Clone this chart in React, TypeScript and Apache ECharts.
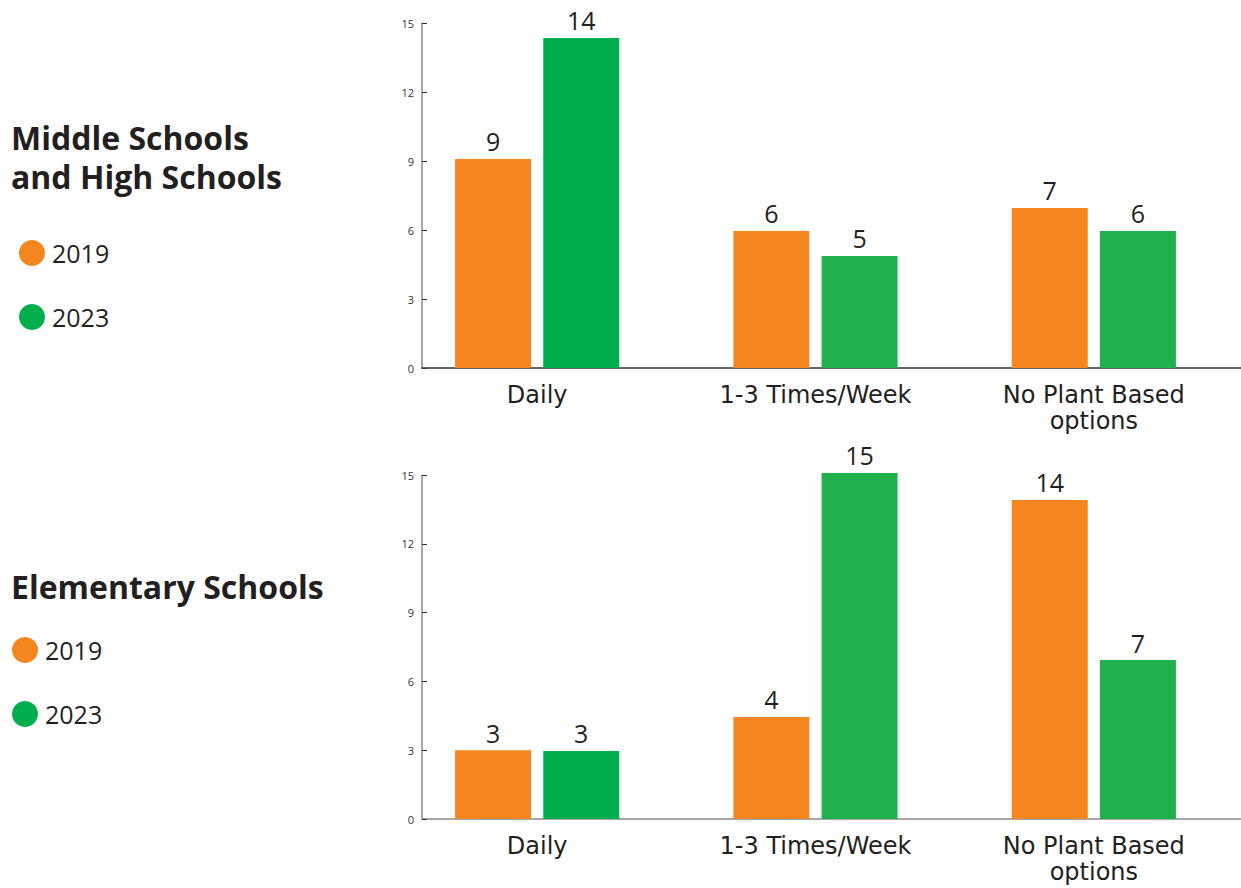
import React, { useEffect, useRef } from "react";
import * as echarts from "echarts";

const categories = ["Daily", "1-3 Times/Week", "No Plant Based\noptions"];
const yTicks = { min: 0, max: 15, interval: 3 };

// Middle & High Schools
const msHs2019 = [9.09, 5.96, 6.96];
const msHs2019Labels = ["9", "6", "7"];
const msHs2023 = [14.35, 4.87, 5.96];
const msHs2023Labels = ["14", "5", "6"];

// Elementary Schools
const elem2019 = [3.0, 4.45, 13.91];
const elem2019Labels = ["3", "4", "14"];
const elem2023 = [2.97, 15.09, 6.93];
const elem2023Labels = ["3", "15", "7"];

const seriesNames = ["2019", "2023"];
const titles = ["Middle Schools\nand High Schools", "Elementary Schools"];

const ORANGE = "#F5861F";
const GREEN = "#00AE4D";
const GREEN2 = "#21B14C";
const green2023Colors = [GREEN, GREEN2, GREEN2];
const TEXT = "#231F20";
const FONT = "'Open Sans', 'Noto Sans', sans-serif";
const WIDE_FONT = "'DejaVu Sans', 'Open Sans', sans-serif";

export default function App() {
  const ref = useRef<HTMLDivElement>(null);
  useEffect(() => {
    if (!ref.current) return;
    const chart = echarts.init(ref.current, null, { renderer: "svg" });

    const grids = [
      { left: 398, width: 835, top: 23, height: 345 },
      { left: 398, width: 835, top: 475, height: 344 },
      { left: 422, right: 0, top: 23, height: 345 },
      { left: 422, right: 0, top: 475, height: 344 },
    ];

    const catAxis = (gi: number) => ({
      type: "category",
      gridIndex: gi,
      data: categories,
      axisLine: { show: false },
      axisTick: { show: false },
      axisLabel: {
        fontSize: 24,
        color: TEXT,
        fontFamily: WIDE_FONT,
        margin: 14,
        lineHeight: 26,
        interval: 0,
      },
    });
    const valAxis = (gi: number) => ({
      type: "value",
      gridIndex: gi,
      min: yTicks.min,
      max: yTicks.max,
      interval: yTicks.interval,
      offset: -24,
      axisLine: { show: true, lineStyle: { color: "#8A8A8A", width: 1.5 } },
      axisTick: { show: true, inside: true, length: 5, lineStyle: { color: "#333" } },
      axisLabel: { fontSize: 11, color: "#333", fontFamily: FONT, margin: 8 },
      splitLine: { show: false },
    });
    const lineXAxis = (gi: number, color: string) => ({
      type: "value",
      gridIndex: gi,
      min: 0,
      max: 1,
      axisLine: { show: true, onZero: false, lineStyle: { color, width: 1.5 } },
      axisTick: { show: false },
      axisLabel: { show: false },
      splitLine: { show: false },
    });
    const hiddenY = (gi: number) => ({
      type: "value",
      gridIndex: gi,
      min: 0,
      max: 15,
      show: false,
    });

    const mkSeries = (
      name: string,
      values: number[],
      labels: string[],
      gi: number,
      colors: string[]
    ) => ({
      type: "bar",
      name,
      xAxisIndex: gi,
      yAxisIndex: gi,
      barWidth: 76,
      barGap: "16%",
      clip: false,
      data: values.map((v, i) => ({ value: v, itemStyle: { color: colors[i] } })),
      itemStyle: { color: colors[0] },
      label: {
        show: true,
        position: "top",
        distance: 5,
        fontSize: 25,
        color: TEXT,
        fontFamily: FONT,
        formatter: (p: any) => labels[p.dataIndex],
      },
    });

    const orangeColors = categories.map(() => ORANGE);

    const legendBase = {
      orient: "vertical",
      icon: "circle",
      itemWidth: 26,
      itemHeight: 26,
      itemGap: 38,
      selectedMode: false,
      data: seriesNames,
      textStyle: { fontSize: 25, color: TEXT, fontFamily: FONT, padding: [0, 0, 0, 2] },
      padding: 0,
    };

    const titleStyle = {
      fontSize: 32,
      fontWeight: "bold",
      color: TEXT,
      fontFamily: FONT,
      lineHeight: 39,
    };

    chart.setOption({
      animation: false,
      backgroundColor: "#fff",
      title: [
        { text: titles[0], left: 11, top: 118, padding: 0, textStyle: titleStyle },
        { text: titles[1], left: 11, top: 567, padding: 0, textStyle: titleStyle },
      ],
      legend: [
        { ...legendBase, left: 19, top: 240 },
        { ...legendBase, left: 12, top: 637 },
      ],
      grid: grids,
      xAxis: [catAxis(0), catAxis(1), lineXAxis(2, "#333"), lineXAxis(3, "#8A8A8A")],
      yAxis: [valAxis(0), valAxis(1), hiddenY(2), hiddenY(3)],
      series: [
        mkSeries(seriesNames[0], msHs2019, msHs2019Labels, 0, orangeColors),
        mkSeries(seriesNames[1], msHs2023, msHs2023Labels, 0, green2023Colors),
        mkSeries(seriesNames[0], elem2019, elem2019Labels, 1, orangeColors),
        mkSeries(seriesNames[1], elem2023, elem2023Labels, 1, green2023Colors),
      ],
    });
    return () => chart.dispose();
  }, []);
  return (
    <div
      ref={ref}
      style={{ position: "absolute", left: 0, top: 0, width: 1241, height: 888 }}
    />
  );
}
